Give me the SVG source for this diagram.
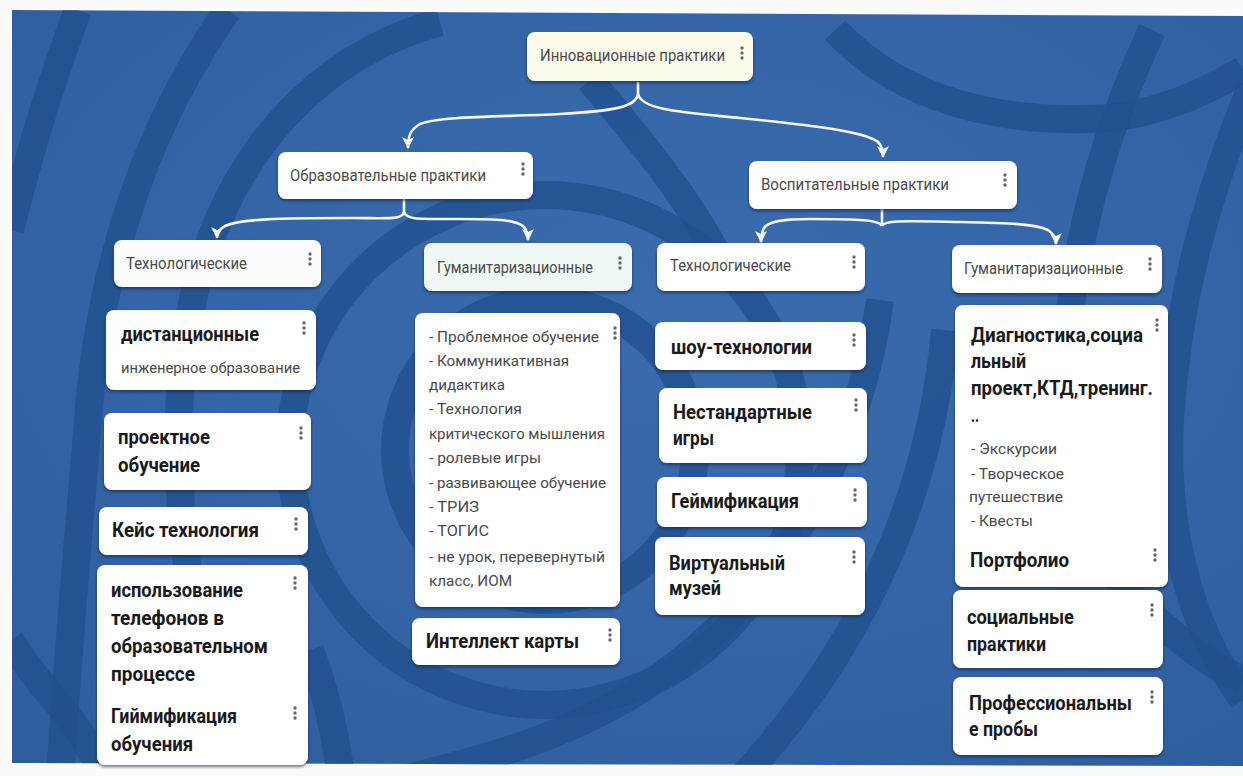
<svg xmlns="http://www.w3.org/2000/svg" xmlns:xlink="http://www.w3.org/1999/xlink" width="1243" height="776" viewBox="0 0 1243 776">
<defs>
<radialGradient id="bg" cx="0.55" cy="0.4" r="0.75">
<stop offset="0" stop-color="#3a6cae"/>
<stop offset="1" stop-color="#2f5e9e"/>
</radialGradient>
<clipPath id="clip"><polygon points="12,10 1243,16 1243,766 12,763"/></clipPath>
<marker id="arr" viewBox="0 0 12 12" refX="11" refY="6" markerWidth="12" markerHeight="12" markerUnits="userSpaceOnUse" orient="auto">
<path d="M0,0 L12,6 L0,12 L3,6 Z" fill="#f4f6f8"/>
</marker>
<filter id="sh" x="-10%" y="-10%" width="120%" height="130%">
<feDropShadow dx="0" dy="2" stdDeviation="1.5" flood-color="#0a1e3c" flood-opacity="0.6"/>
</filter>
<g id="keb" fill="#666">
<circle cx="0" cy="-5" r="1.7"/><circle cx="0" cy="0" r="1.7"/><circle cx="0" cy="5" r="1.7"/>
</g>
</defs>
<style>
.box{fill:#ffffff;filter:url(#sh);}
.hd{font-family:Roboto,"Noto Sans","Liberation Sans",sans-serif;font-size:16px;fill:#4a4a4a;}
.b{font-family:Roboto,"Noto Sans","Liberation Sans",sans-serif;font-size:19.5px;font-weight:700;fill:#1a1a1a;}
.s{font-family:Roboto,"Noto Sans","Liberation Sans",sans-serif;font-size:15px;fill:#4a4a4a;}
.arc{fill:none;stroke:#22508e;stroke-width:28;stroke-opacity:0.8;}
.con{fill:none;stroke:#f4f6f8;stroke-width:2.6;marker-end:url(#arr);}
.stem{fill:none;stroke:#f4f6f8;stroke-width:2.6;}
</style>
<rect x="0" y="0" width="1243" height="776" fill="#fbfbfb"/>
<g clip-path="url(#clip)">
<rect x="0" y="0" width="1243" height="776" fill="url(#bg)"/>
<path class="arc" d="M78,10 Q40,110 10,230"/>
<path class="arc" d="M228,10 C150,120 100,260 88,420 C80,520 70,620 60,780"/>
<path class="arc" d="M440,22 C320,55 230,150 195,290 C170,400 175,520 200,640"/>
<circle class="arc" cx="545" cy="450" r="150"/>
<circle class="arc" cx="545" cy="450" r="255" stroke-opacity="0.6"/>
<path class="arc" d="M590,80 C640,140 690,200 720,260"/>
<path class="arc" d="M880,300 C860,450 780,600 640,690 C560,740 480,760 400,780"/>
<path class="arc" d="M945,330 C930,500 860,650 740,780"/>
<path class="arc" d="M835,30 C900,100 1000,125 1110,118 C1160,112 1200,95 1243,70"/>
<path class="arc" d="M1152,30 C1110,120 1080,220 1069,320"/>
<path class="arc" d="M1250,90 C1205,200 1178,300 1170,420 C1165,520 1185,620 1243,700"/>
<path class="arc" d="M1100,560 C1150,620 1200,660 1243,680" stroke-opacity="0.5"/>
<path class="arc" d="M10,640 C40,690 80,720 100,770" stroke-opacity="0.6"/>
<path class="arc" d="M310,650 C325,690 335,730 340,770" stroke-opacity="0.6"/>
</g>
<g id="connectors">
<path class="stem" d="M638,82 L638,94"/>
<path class="con" d="M638,94 C636,108 610,111 560,114 C500,117 440,116 420,124 C410,130 408,136 408,148"/>
<path class="con" d="M638,94 C642,110 680,112 740,118 C820,126 865,132 878,142 C882,146 883,150 883,157"/>
<path class="stem" d="M404,199 L404,212"/>
<path class="con" d="M404,212 C402,220 390,218 350,218 C280,218 240,219 225,226 C219,230 217,232 217,238"/>
<path class="con" d="M404,212 C406,220 420,219 460,219 C500,219 515,220 523,226 C527,230 528,234 528,240"/>
<path class="stem" d="M882,209 L882,226"/>
<path class="con" d="M882,226 C880,220 860,219 810,219 C780,219 768,222 764,228 C762,232 761,236 761,242"/>
<path class="con" d="M882,226 C884,220 905,221 960,222 C1010,223 1035,224 1048,230 C1054,234 1056,238 1056,244"/>
</g>
<g id="n-root">
<rect class="box" x="527" y="32" width="226" height="49" rx="8" style="fill:#fcfaea"/>
<text class="hd" x="540" y="61" textLength="185" lengthAdjust="spacingAndGlyphs">Инновационные практики</text>
<use xlink:href="#keb" x="742" y="53"/>
</g>
<g id="n-obr">
<rect class="box" x="278" y="152" width="255" height="47" rx="8"/>
<text class="hd" x="290" y="181" textLength="196" lengthAdjust="spacingAndGlyphs">Образовательные практики</text>
<use xlink:href="#keb" x="523" y="169"/>
</g>
<g id="n-vosp">
<rect class="box" x="749" y="161" width="268" height="48" rx="8"/>
<text class="hd" x="761" y="190" textLength="188" lengthAdjust="spacingAndGlyphs">Воспитательные практики</text>
<use xlink:href="#keb" x="1005" y="180"/>
</g>
<g id="n-tech1">
<rect class="box" x="114" y="240" width="207" height="47" rx="8" style="fill:#fbfdfd"/>
<text class="hd" x="126" y="269" textLength="121" lengthAdjust="spacingAndGlyphs">Технологические</text>
<use xlink:href="#keb" x="310" y="259"/>
</g>
<g id="n-gum1">
<rect class="box" x="424" y="243" width="208" height="48" rx="8" style="fill:#f0f8f5"/>
<text class="hd" x="437" y="273" textLength="156" lengthAdjust="spacingAndGlyphs">Гуманитаризационные</text>
<use xlink:href="#keb" x="620" y="263"/>
</g>
<g id="n-tech2">
<rect class="box" x="657" y="243" width="208" height="48" rx="8"/>
<text class="hd" x="670" y="271" textLength="121" lengthAdjust="spacingAndGlyphs">Технологические</text>
<use xlink:href="#keb" x="854" y="262"/>
</g>
<g id="n-gum2">
<rect class="box" x="952" y="245" width="210" height="48" rx="8"/>
<text class="hd" x="964" y="274" textLength="159" lengthAdjust="spacingAndGlyphs">Гуманитаризационные</text>
<use xlink:href="#keb" x="1150" y="264"/>
</g>
<g id="n-dist">
<rect class="box" x="106" y="310" width="210" height="80" rx="8"/>
<text class="b" x="121" y="341" textLength="138" lengthAdjust="spacingAndGlyphs">дистанционные</text>
<text class="s" x="121" y="373" textLength="179" lengthAdjust="spacingAndGlyphs">инженерное образование</text>
<use xlink:href="#keb" x="304" y="328"/>
</g>
<g id="n-proj">
<rect class="box" x="104" y="413" width="207" height="77" rx="8"/>
<text class="b" x="118" y="444" textLength="92" lengthAdjust="spacingAndGlyphs">проектное</text>
<text class="b" x="118" y="472" textLength="82" lengthAdjust="spacingAndGlyphs">обучение</text>
<use xlink:href="#keb" x="301" y="433"/>
</g>
<g id="n-case">
<rect class="box" x="99" y="507" width="209" height="48" rx="8"/>
<text class="b" x="112" y="537" textLength="147" lengthAdjust="spacingAndGlyphs">Кейс технология</text>
<use xlink:href="#keb" x="296" y="524"/>
</g>
<g id="n-phone">
<rect class="box" x="97" y="565" width="211" height="200" rx="8"/>
<text class="b" x="111" y="597" textLength="132" lengthAdjust="spacingAndGlyphs">использование</text>
<text class="b" x="111" y="625" textLength="113" lengthAdjust="spacingAndGlyphs">телефонов в</text>
<text class="b" x="111" y="653" textLength="157" lengthAdjust="spacingAndGlyphs">образовательном</text>
<text class="b" x="111" y="681" textLength="84" lengthAdjust="spacingAndGlyphs">процессе</text>
<text class="b" x="111" y="723" textLength="126" lengthAdjust="spacingAndGlyphs">Гиймификация</text>
<text class="b" x="111" y="751" textLength="82" lengthAdjust="spacingAndGlyphs">обучения</text>
<use xlink:href="#keb" x="295" y="583"/>
<use xlink:href="#keb" x="295" y="713"/>
</g>
<g id="n-list">
<rect class="box" x="415" y="313" width="205" height="294" rx="8"/>
<text class="s" x="429" y="342" textLength="170" lengthAdjust="spacingAndGlyphs">- Проблемное обучение</text>
<text class="s" x="429" y="366" textLength="140" lengthAdjust="spacingAndGlyphs">- Коммуникативная</text>
<text class="s" x="429" y="390" textLength="76" lengthAdjust="spacingAndGlyphs">дидактика</text>
<text class="s" x="429" y="414" textLength="93" lengthAdjust="spacingAndGlyphs">- Технология</text>
<text class="s" x="429" y="439" textLength="176" lengthAdjust="spacingAndGlyphs">критического мышления</text>
<text class="s" x="429" y="463" textLength="112" lengthAdjust="spacingAndGlyphs">- ролевые игры</text>
<text class="s" x="429" y="488" textLength="177" lengthAdjust="spacingAndGlyphs">- развивающее обучение</text>
<text class="s" x="429" y="512" textLength="50" lengthAdjust="spacingAndGlyphs">- ТРИЗ</text>
<text class="s" x="429" y="536" textLength="60" lengthAdjust="spacingAndGlyphs">- ТОГИС</text>
<text class="s" x="429" y="562" textLength="176" lengthAdjust="spacingAndGlyphs">- не урок, перевернутый</text>
<text class="s" x="429" y="586" textLength="83" lengthAdjust="spacingAndGlyphs">класс, ИОМ</text>
<use xlink:href="#keb" x="615" y="333"/>
</g>
<g id="n-mind">
<rect class="box" x="412" y="618" width="208" height="47" rx="8"/>
<text class="b" x="426" y="648" textLength="153" lengthAdjust="spacingAndGlyphs">Интеллект карты</text>
<use xlink:href="#keb" x="610" y="635"/>
</g>
<g id="n-show">
<rect class="box" x="655" y="322" width="211" height="48" rx="8"/>
<text class="b" x="671" y="354" textLength="141" lengthAdjust="spacingAndGlyphs">шоу-технологии</text>
<use xlink:href="#keb" x="854" y="340"/>
</g>
<g id="n-nonstd">
<rect class="box" x="659" y="388" width="208" height="75" rx="8"/>
<text class="b" x="673" y="419" textLength="139" lengthAdjust="spacingAndGlyphs">Нестандартные</text>
<text class="b" x="673" y="445" textLength="41" lengthAdjust="spacingAndGlyphs">игры</text>
<use xlink:href="#keb" x="856" y="405"/>
</g>
<g id="n-game">
<rect class="box" x="657" y="477" width="210" height="50" rx="8"/>
<text class="b" x="671" y="508" textLength="128" lengthAdjust="spacingAndGlyphs">Геймификация</text>
<use xlink:href="#keb" x="855" y="495"/>
</g>
<g id="n-museum">
<rect class="box" x="655" y="537" width="210" height="78" rx="8"/>
<text class="b" x="669" y="570" textLength="116" lengthAdjust="spacingAndGlyphs">Виртуальный</text>
<text class="b" x="669" y="595" textLength="52" lengthAdjust="spacingAndGlyphs">музей</text>
<use xlink:href="#keb" x="854" y="557"/>
</g>
<g id="n-diag">
<rect class="box" x="955" y="305" width="213" height="282" rx="8"/>
<text class="b" x="971" y="342" textLength="172" lengthAdjust="spacingAndGlyphs">Диагностика,социа</text>
<text class="b" x="971" y="368" textLength="55" lengthAdjust="spacingAndGlyphs">льный</text>
<text class="b" x="971" y="395" textLength="182" lengthAdjust="spacingAndGlyphs">проект,КТД,тренинг.</text>
<text class="b" x="971" y="422" textLength="8" lengthAdjust="spacingAndGlyphs">..</text>
<text class="s" x="971" y="454" textLength="86" lengthAdjust="spacingAndGlyphs">- Экскурсии</text>
<text class="s" x="971" y="479" textLength="93" lengthAdjust="spacingAndGlyphs">- Творческое</text>
<text class="s" x="969" y="502" textLength="94" lengthAdjust="spacingAndGlyphs">путешествие</text>
<text class="s" x="971" y="526" textLength="62" lengthAdjust="spacingAndGlyphs">- Квесты</text>
<text class="b" x="970" y="567" textLength="99" lengthAdjust="spacingAndGlyphs">Портфолио</text>
<use xlink:href="#keb" x="1157" y="325"/>
<use xlink:href="#keb" x="1155" y="555"/>
</g>
<g id="n-social">
<rect class="box" x="953" y="590" width="210" height="78" rx="8"/>
<text class="b" x="967" y="624" textLength="107" lengthAdjust="spacingAndGlyphs">социальные</text>
<text class="b" x="967" y="651" textLength="79" lengthAdjust="spacingAndGlyphs">практики</text>
<use xlink:href="#keb" x="1152" y="610"/>
</g>
<g id="n-prof">
<rect class="box" x="953" y="677" width="210" height="78" rx="8"/>
<text class="b" x="969" y="710" textLength="163" lengthAdjust="spacingAndGlyphs">Профессиональны</text>
<text class="b" x="969" y="736" textLength="69" lengthAdjust="spacingAndGlyphs">е пробы</text>
<use xlink:href="#keb" x="1152" y="697"/>
</g>
</svg>
